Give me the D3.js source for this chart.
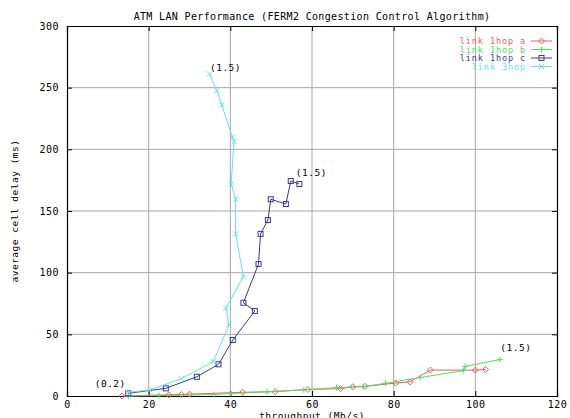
<!DOCTYPE html>
<html><head><meta charset="utf-8">
<script src="https://cdn.jsdelivr.net/npm/d3@7"></script>
<style>body{margin:0;background:#fff}svg{display:block}text{font-family:"DejaVu Sans Mono",monospace}</style>
</head><body>
<script>
const title = "ATM LAN Performance (FERM2 Congestion Control Algorithm)";
const xLabel = "throughput (Mb/s)";
const yLabel = "average cell delay (ms)";
const xTicks = [0, 20, 40, 60, 80, 100, 120];
const yTicks = [0, 50, 100, 150, 200, 250, 300];
const seriesNames = ["link 1hop a", "link 1hop b", "link 1hop c", "link 3hop"];
const hop1a = [[13.5,0],[25,1],[28,1.2],[30,1.5],[43,3],[51,3.5],[59,5.3],[67,6],[70,7.5],[73,7.8],[80.5,10.5],[84,11.5],[89,21],[100,21],[102.5,21.5]];
const hop1b = [[15,0],[22.5,0.3],[36,1.2],[40,2],[49,3.5],[58,5],[66,6.8],[72.5,7.6],[78,10.3],[86.5,15],[97,20.5],[97.5,24],[106,29.5]];
const hop1c = [[15,2.2],[24.2,6.2],[31.8,15.6],[37.1,25.7],[40.6,45.4],[46,68.9],[43.2,75.6],[46.9,107],[47.4,131.4],[49.2,142.7],[49.9,159.5],[53.6,155.7],[54.8,174.3],[56.9,171.9]];
const hop3 = [[15,3],[20.3,4.9],[28,14],[35.8,27.8],[39.7,57.6],[38.9,71.1],[43.2,96.7],[41.3,131.4],[41.3,159.5],[40.2,171.9],[40.9,206.2],[40.5,209.8],[37.9,236],[36.7,247.6],[34.9,261.1]];
const annotations = ["(0.2)", "(1.5)"];

const W = 570, H = 418;
const svg = d3.select("body").append("svg").attr("width", W).attr("height", H);
const x = d3.scaleLinear().domain([0, 120]).range([67, 557]);
const y = d3.scaleLinear().domain([0, 300]).range([396, 26]);
const colors = ["#e06464", "#5ed85e", "#3a3a98", "#62e2ea"];
const markers = ["diamond", "plus", "square", "cross"];
const data = [hop1a, hop1b, hop1c, hop3];

// grid
svg.append("g").selectAll("line").data(xTicks.slice(1, -1)).join("line")
  .attr("x1", d => x(d)).attr("x2", d => x(d)).attr("y1", y(0)).attr("y2", y(300))
  .attr("stroke", "#a8a8a8").attr("stroke-width", 1);
svg.append("g").selectAll("line").data(yTicks.slice(1, -1)).join("line")
  .attr("x1", x(0)).attr("x2", x(120)).attr("y1", d => y(d)).attr("y2", d => y(d))
  .attr("stroke", "#a8a8a8").attr("stroke-width", 1);

// axes
svg.append("g").attr("transform", `translate(0,${y(0)})`)
  .call(d3.axisBottom(x).tickValues(xTicks).tickSize(-5).tickPadding(5));
svg.append("g").attr("transform", `translate(${x(0)},0)`)
  .call(d3.axisLeft(y).tickValues(yTicks).tickSize(-5).tickPadding(8));
svg.append("g").attr("transform", `translate(0,${y(300)})`)
  .call(d3.axisTop(x).tickValues(xTicks).tickSize(-5).tickFormat(""));
svg.append("g").attr("transform", `translate(${x(120)},0)`)
  .call(d3.axisRight(y).tickValues(yTicks).tickSize(-5).tickFormat(""));
svg.selectAll(".domain").attr("stroke", "#000").attr("stroke-width", 1.2);
svg.selectAll(".tick line").attr("stroke", "#000");
svg.selectAll(".tick text").attr("font-size", 10).attr("font-family", "DejaVu Sans Mono")
  .attr("fill", "#000").attr("letter-spacing", 0.5);

// titles
svg.append("text").attr("x", 312).attr("y", 20).attr("text-anchor", "middle")
  .attr("font-size", 10).attr("letter-spacing", 0.35).text(title);
svg.append("text").attr("x", 312).attr("y", 419).attr("text-anchor", "middle")
  .attr("font-size", 9.5).attr("letter-spacing", 0.5).text(xLabel);
svg.append("text").attr("transform", `translate(18,${(y(0) + y(300)) / 2}) rotate(-90)`)
  .attr("text-anchor", "middle").attr("font-size", 9.5).attr("letter-spacing", 0.5).text(yLabel);

function drawMarker(g, type, cx, cy, color) {
  if (type === "diamond") {
    g.append("path").attr("d", `M${cx},${cy-3}L${cx+3},${cy}L${cx},${cy+3}L${cx-3},${cy}Z`)
      .attr("fill", "none").attr("stroke", color);
  } else if (type === "plus") {
    g.append("path").attr("d", `M${cx-3},${cy}H${cx+3}M${cx},${cy-3}V${cy+3}`).attr("stroke", color);
  } else if (type === "square") {
    g.append("rect").attr("x", cx-2.5).attr("y", cy-2.5).attr("width", 5).attr("height", 5)
      .attr("fill", "none").attr("stroke", color);
  } else {
    g.append("path").attr("d", `M${cx-2.5},${cy-2.5}L${cx+2.5},${cy+2.5}M${cx-2.5},${cy+2.5}L${cx+2.5},${cy-2.5}`).attr("stroke", color);
  }
}

const line = d3.line().x(d => x(d[0])).y(d => y(d[1]));
data.forEach((s, i) => {
  const g = svg.append("g");
  g.append("path").datum(s).attr("d", line).attr("fill", "none")
    .attr("stroke", colors[i]).attr("stroke-width", 1);
  s.forEach(d => drawMarker(g, markers[i], x(d[0]), y(d[1]), colors[i]));
});

// annotations
const ann = svg.append("g").attr("font-size", 9.5).attr("text-anchor", "middle").attr("fill", "#000").attr("letter-spacing", 0.5);
ann.append("text").attr("x", x(hop1c[0][0]) - 18).attr("y", y(hop1c[0][1]) - 6).text(annotations[0]);
ann.append("text").attr("x", x(hop3[hop3.length-1][0]) + 16).attr("y", y(hop3[hop3.length-1][1]) - 3).text(annotations[1]);
ann.append("text").attr("x", x(hop1c[hop1c.length-1][0]) + 12).attr("y", y(hop1c[hop1c.length-1][1]) - 8).text(annotations[1]);
ann.append("text").attr("x", x(hop1b[hop1b.length-1][0]) + 16).attr("y", y(hop1b[hop1b.length-1][1]) - 9).text(annotations[1]);

// legend
const leg = svg.append("g");
seriesNames.forEach((n, i) => {
  const ly = 41 + i * 8.5;
  leg.append("text").attr("x", 526).attr("y", ly + 3).attr("text-anchor", "end")
    .attr("font-size", 8.5).attr("letter-spacing", 0.9).attr("fill", colors[i]).text(n);
  leg.append("line").attr("x1", 531).attr("x2", 552).attr("y1", ly).attr("y2", ly).attr("stroke", colors[i]);
  drawMarker(leg, markers[i], 541.5, ly, colors[i]);
});
</script>
</body></html>
